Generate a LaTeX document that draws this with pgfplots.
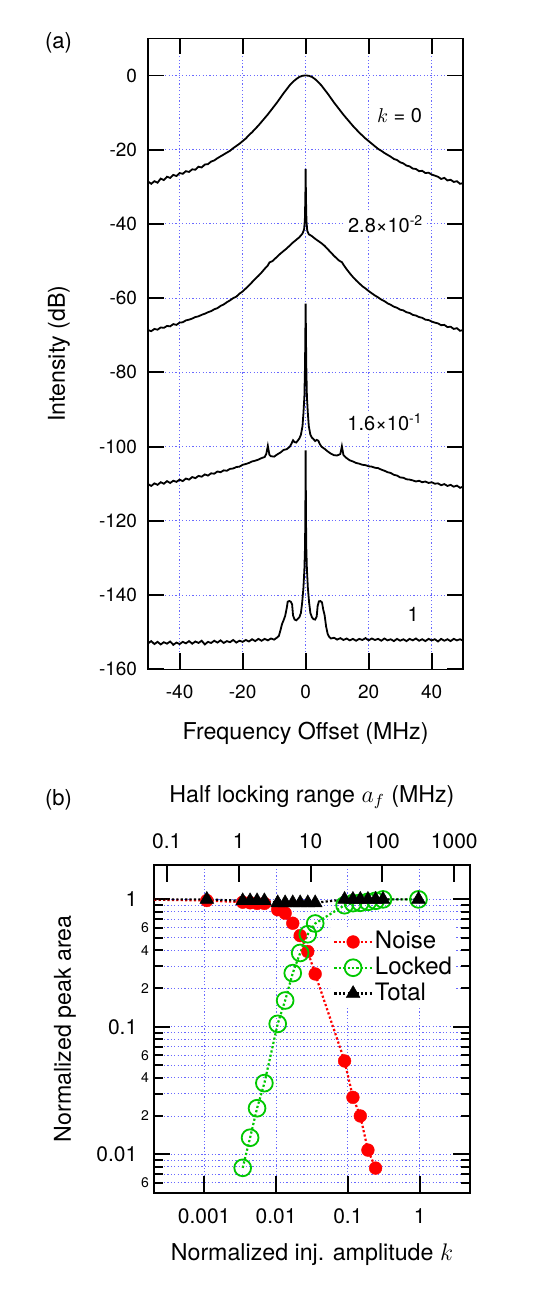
\documentclass[border=0pt]{standalone}
\usepackage{fontspec}
\setmainfont{TeX Gyre Heros}
\usepackage{pgfplots}
\pgfplotsset{compat=1.18}
\definecolor{gridblue}{RGB}{105,105,255}
\definecolor{nred}{RGB}{255,0,0}
\definecolor{lgreen}{RGB}{0,200,0}

\pgfplotstableread{
x y
-50 -28.6
-49 -29.2
-48 -28.5
-47 -28.9
-46 -27.8
-45 -28.2
-44 -27.3
-43 -27.6
-42 -26.8
-41 -27.1
-40 -26.3
-39 -26.5
-38 -25.8
-37 -26.0
-36 -25.3
-35 -25.4
-34 -24.6
-33 -24.8
-32 -24.0
-31 -23.9
-30 -23.2
-29 -22.9
-28 -22.3
-27 -21.8
-26 -21.3
-25 -20.8
-24 -20.3
-23 -19.6
-22 -19.0
-21 -18.4
-20 -17.7
-19 -17.0
-18 -16.1
-17 -15.3
-16 -14.4
-15 -13.5
-14 -12.5
-13 -11.5
-12 -10.5
-11 -9.4
-10 -8.3
-9 -7.2
-8 -6.0
-7 -4.8
-6 -3.7
-5 -2.6
-4 -1.7
-3 -1.0
-2 -0.4
-1 -0.1
0 0
1 -0.1
2 -0.4
3 -1.0
4 -1.8
5 -2.7
6 -3.8
7 -4.9
8 -6.1
9 -7.3
10 -8.4
11 -9.5
12 -10.6
13 -11.6
14 -12.6
15 -13.6
16 -14.5
17 -15.4
18 -16.2
19 -17.0
20 -17.7
21 -18.4
22 -19.1
23 -19.8
24 -20.3
25 -20.9
26 -21.4
27 -21.9
28 -22.5
29 -22.8
30 -23.4
31 -23.7
32 -24.3
33 -24.5
34 -25.1
35 -25.2
36 -25.8
37 -25.7
38 -26.3
39 -26.2
40 -26.7
41 -27.0
42 -27.3
43 -27.9
44 -27.6
45 -28.3
46 -28.1
47 -28.7
48 -28.5
49 -29.2
50 -29.0
}\specA

\pgfplotstableread{
x y
-50 -68.6
-49 -68.9
-48 -68.3
-47 -68.5
-46 -67.9
-45 -68.0
-44 -67.5
-43 -67.6
-42 -67.0
-41 -67.2
-40 -66.6
-39 -66.5
-38 -66.0
-37 -65.8
-36 -65.5
-35 -65.1
-34 -64.9
-33 -64.5
-32 -64.2
-31 -63.8
-30 -63.5
-29 -63.0
-28 -62.7
-27 -62.1
-26 -61.7
-25 -61.1
-24 -60.6
-23 -60.0
-22 -59.6
-21 -58.8
-20 -58.2
-19 -57.4
-18 -56.6
-17 -55.7
-16 -54.8
-15 -54.0
-14 -53.1
-13 -52.1
-12 -51.2
-11.5 -50.4
-11 -50.2
-10.5 -50.0
-10 -49.6
-9 -48.8
-8 -48.0
-7 -47.3
-6 -46.6
-5 -45.8
-4 -45.0
-3 -44.3
-2 -43.6
-1 -42.6
-0.5 -41.5
-0.25 -39
-0.1 -33
0 -25.2
0.1 -33
0.25 -39
0.5 -41.8
1 -42.8
2 -43.3
3 -44.0
4 -44.6
5 -45.2
6 -45.9
7 -46.8
8 -47.7
9 -48.6
10 -49.4
10.5 -49.8
11 -50.1
11.5 -50.3
12 -51.0
13 -52.2
14 -53.3
15 -54.3
16 -55.2
17 -56.0
18 -56.8
19 -57.4
20 -58.1
21 -58.7
22 -59.3
23 -59.8
24 -60.4
25 -60.8
26 -61.4
27 -61.8
28 -62.3
29 -62.6
30 -63.1
31 -63.3
32 -63.8
33 -64.0
34 -64.5
35 -64.7
36 -65.1
37 -65.3
38 -65.8
39 -65.9
40 -66.3
41 -66.6
42 -66.8
43 -67.3
44 -67.2
45 -67.8
46 -67.7
47 -68.3
48 -68.1
49 -68.8
50 -68.6
}\specB

\pgfplotstableread{
x y
-50 -110.1
-49 -110.6
-48 -109.9
-47 -110.3
-46 -109.6
-45 -110.0
-44 -109.3
-43 -109.8
-42 -109.2
-41 -109.5
-40 -108.9
-39 -109.3
-38 -108.6
-37 -108.9
-36 -108.2
-35 -108.5
-34 -107.9
-33 -108.1
-32 -107.5
-31 -107.8
-30 -107.2
-29 -107.3
-28 -106.7
-27 -106.9
-26 -106.4
-25 -106.5
-24 -106.0
-23 -105.9
-22 -105.5
-21 -105.4
-20 -104.9
-19 -104.7
-18 -104.4
-17 -104.0
-16 -103.8
-15 -103.5
-14 -103.1
-13 -102.8
-12.5 -102.0
-12 -99.8
-11.5 -102.2
-11 -102.6
-10 -102.7
-9 -102.1
-8 -101.6
-7 -100.9
-6 -100.7
-5 -100.0
-4.5 -99.2
-4 -98.3
-3.5 -98.8
-3 -98.9
-2.5 -98.4
-2 -97.8
-1.5 -96.8
-1 -94.5
-0.7 -91
-0.4 -86.5
-0.2 -78
0 -61.5
0.2 -78
0.4 -86.5
0.7 -91
1 -94.5
1.5 -96.8
2 -97.6
2.5 -98.0
3 -98.5
3.5 -98.2
4 -98.4
4.5 -99.3
5 -100.0
6 -100.6
7 -101.3
8 -101.9
9 -102.3
10 -102.4
11 -102.0
11.5 -99.9
12 -102.3
13 -103.1
14 -103.7
15 -104.0
16 -104.4
17 -104.6
18 -104.9
19 -105.0
20 -105.3
21 -105.4
22 -105.7
23 -105.8
24 -106.2
25 -106.5
26 -106.9
27 -107.1
28 -107.6
29 -107.8
30 -108.3
31 -108.4
32 -108.8
33 -108.9
34 -109.1
35 -109.4
36 -109.2
37 -109.6
38 -109.4
39 -109.8
40 -109.6
41 -110.0
42 -109.9
43 -110.4
44 -110.1
45 -110.6
46 -110.3
47 -110.8
48 -110.5
49 -111.1
50 -110.8
}\specC

\pgfplotstableread{
x y
-50 -153.0
-49 -152.4
-48 -153.2
-47 -152.6
-46 -153.3
-45 -152.7
-44 -153.1
-43 -152.5
-42 -153.4
-41 -152.8
-40 -153.2
-39 -152.6
-38 -153.0
-37 -152.4
-36 -153.1
-35 -152.5
-34 -152.9
-33 -152.3
-32 -153.3
-31 -152.6
-30 -152.9
-29 -152.3
-28 -152.8
-27 -152.2
-26 -152.9
-25 -152.4
-24 -152.7
-23 -152.1
-22 -152.8
-21 -152.3
-20 -152.6
-19 -152.1
-18 -152.5
-17 -151.9
-16 -152.4
-15 -151.8
-14 -152.3
-13 -151.8
-12 -152.2
-11 -151.7
-10 -152.0
-9 -151.4
-8.5 -151.0
-8 -149.5
-7.5 -147.8
-7 -146.8
-6.5 -145.6
-6 -143.5
-5.7 -141.8
-5.2 -141.6
-4.7 -141.8
-4.3 -142.5
-4 -145.5
-3.5 -146.6
-3 -146.8
-2.5 -146.4
-2 -146.0
-1.5 -144.8
-1.1 -142
-0.7 -138
-0.4 -133
-0.2 -127
-0.1 -118
0 -101
0.1 -118
0.2 -127
0.4 -133
0.7 -138
1.1 -142
1.5 -144.8
2 -146.0
2.5 -146.5
3 -146.6
3.5 -145.8
3.8 -143.0
4.2 -141.7
4.7 -141.6
5.2 -142.0
5.6 -144.0
6 -145.3
6.5 -148.5
7 -150.5
7.5 -151.3
8 -151.7
9 -151.5
10 -152.0
11 -151.6
12 -152.1
13 -151.7
14 -152.2
15 -151.8
16 -152.3
17 -151.8
18 -152.1
19 -151.6
20 -152.2
21 -151.7
22 -152.1
23 -151.8
24 -152.3
25 -151.7
26 -152.2
27 -151.9
28 -152.4
29 -151.8
30 -152.3
31 -151.9
32 -152.4
33 -151.8
34 -152.2
35 -151.7
36 -152.3
37 -151.9
38 -152.4
39 -151.8
40 -152.2
41 -151.9
42 -152.5
43 -151.8
44 -152.3
45 -151.9
46 -152.4
47 -151.8
48 -152.2
49 -151.9
50 -152.3
}\specD

\pgfplotstableread{
k v
0.0001 1.0
0.00109 0.98
0.00344 0.95
0.00436 0.94
0.00545 0.93
0.00689 0.93
0.01056 0.83
0.0134 0.78
0.0171 0.65
0.02168 0.52
0.02767 0.39
0.03508 0.26
0.0899 0.054
0.1175 0.028
0.149 0.020
0.19 0.0108
0.243 0.0078
}\noise

\pgfplotstableread{
k v
0.00344 0.00784
0.00436 0.0135
0.00545 0.0230
0.00689 0.0362
0.01056 0.1056
0.0134 0.161
0.0171 0.264
0.02168 0.380
0.02767 0.533
0.03508 0.647
0.0899 0.90
0.1175 0.935
0.149 0.94
0.19 0.957
0.243 0.975
0.308 1.0
0.96 1.0
}\locked

\pgfplotstableread{
k v
0.0001 1.0
0.00109 1.0
0.00344 0.975
0.00436 0.975
0.00545 0.975
0.00689 0.975
0.01056 0.94
0.0134 0.94
0.0171 0.94
0.02168 0.94
0.02767 0.94
0.03508 0.94
0.0899 1.0
0.1175 1.0
0.149 1.0
0.19 1.0
0.243 1.0
0.308 1.0
0.96 1.0
}\total

\begin{document}
\begin{tikzpicture}
\path[use as bounding box] (0,0) rectangle (270pt,-648pt);

\node[font=\fontsize{11}{13}\selectfont] at (29.25pt,-21.65pt) {(a)};
\node[font=\fontsize{11}{13}\selectfont] at (29.25pt,-400pt) {(b)};

% ---------------- panel (a) ----------------
\begin{axis}[
  at={(74.05pt,-334.65pt)}, anchor=south west,
  scale only axis, width=157.55pt, height=315.5pt,
  xmin=-50, xmax=50, ymin=-160, ymax=10,
  xtick={-40,-20,0,20,40}, xticklabels={-40,-20,0,20,40},
  ytick={-160,-140,-120,-100,-80,-60,-40,-20,0},
  yticklabels={-160,-140,-120,-100,-80,-60,-40,-20,0},
  minor tick num=0,
  tick align=inside, major tick length=8pt,
  every tick/.append style={draw=black, solid, line width=0.9pt},
  axis line style={line width=0.7pt},
  xmajorgrids, ymajorgrids,
  major grid style={gridblue, line width=0.4pt, dash pattern=on 0.6pt off 1.1pt},
  tick label style={font=\fontsize{9.5}{11}\selectfont},
  xticklabel style={yshift=-4.3pt},
  yticklabel style={xshift=-2pt},
  xlabel={Frequency Offset (MHz)},
  ylabel={Intensity (dB)},
  label style={font=\fontsize{11.6}{13}\selectfont},
  xlabel style={at={(axis description cs:0.5,-0.101)}, anchor=center},
  ylabel style={at={(axis description cs:-0.283,0.5)}, anchor=center},
]
\pgfplotsinvokeforeach{-40,-20,0,20,40}{
  \draw[black, line width=0.9pt] (axis cs:#1,-160) -- ++(0pt,8pt);
  \draw[black, line width=0.9pt] (axis cs:#1,10) -- ++(0pt,-8pt);
}
\pgfplotsinvokeforeach{-140,-120,-100,-80,-60,-40,-20,0}{
  \draw[black, line width=0.9pt] (axis cs:-50,#1) -- ++(8pt,0pt);
  \draw[black, line width=0.9pt] (axis cs:50,#1) -- ++(-8pt,0pt);
}
\addplot[black, line width=0.9pt] table[x=x,y=y] {\specA};
\addplot[black, line width=0.9pt] table[x=x,y=y] {\specB};
\addplot[black, line width=0.9pt] table[x=x,y=y] {\specC};
\addplot[black, line width=0.9pt] table[x=x,y=y] {\specD};
\node[fill=white, inner sep=1.5pt, font=\fontsize{10}{12}\selectfont] at (axis cs:29.8,-10.9) {$k$ = 0};
\node[fill=white, inner sep=1.5pt, font=\fontsize{10}{12}\selectfont] at (axis cs:25.4,-40.0) {2.8×10\textsuperscript{-2}};
\node[fill=white, inner sep=1.5pt, font=\fontsize{10}{12}\selectfont] at (axis cs:25.2,-93.5) {1.6×10\textsuperscript{-1}};
\node[fill=white, inner sep=1.5pt, font=\fontsize{10}{12}\selectfont] at (axis cs:34.1,-145.3) {1};
\end{axis}

% ---------------- panel (b) ----------------
\begin{axis}[
  at={(76.95pt,-596.35pt)}, anchor=south west,
  scale only axis, width=158.05pt, height=163.85pt,
  xmode=log, ymode=log,
  xmin=2e-4, xmax=5, ymin=0.005, ymax=1.86,
  xtick={0.001,0.01,0.1,1}, xticklabels={0.001,0.01,0.1,1},
  ytick={0.01,0.1,1}, yticklabels={0.01,0.1,1},
  xminorticks=false,
  minor ytick={0.006,0.007,0.008,0.009,0.02,0.03,0.04,0.05,0.06,0.07,0.08,0.09,0.2,0.3,0.4,0.5,0.6,0.7,0.8,0.9},
  extra y ticks={0.006,0.02,0.04,0.06,0.2,0.4,0.6},
  extra y tick labels={6,2,4,6,2,4,6},
  extra y tick style={major tick length=4.7pt, yticklabel style={font=\fontsize{7}{8}\selectfont, xshift=5.9pt}},
  xtick pos=left,
  tick align=inside, major tick length=8.3pt, minor tick length=4.7pt,
  every tick/.append style={draw=black, solid, line width=1pt},
  axis line style={line width=1pt},
  xmajorgrids, ymajorgrids, yminorgrids,
  major grid style={gridblue, line width=0.4pt, dash pattern=on 0.6pt off 1.1pt},
  minor grid style={gridblue, line width=0.4pt, dash pattern=on 0.6pt off 1.1pt},
  tick label style={font=\fontsize{10.5}{12}\selectfont},
  xticklabel style={yshift=-4.3pt},
  yticklabel style={xshift=-4.8pt},
  xlabel={Normalized inj. amplitude $k$},
  ylabel={Normalized peak area},
  label style={font=\fontsize{11.6}{13}\selectfont},
  xlabel style={at={(axis description cs:0.5,-0.189)}, anchor=center},
  ylabel style={at={(axis description cs:-0.281,0.5)}, anchor=center},
  legend style={at={(0.957,0.812)}, anchor=north east, draw=none, fill=white,
    font=\fontsize{12}{12}\selectfont, inner xsep=1pt, inner ysep=1pt, row sep=0pt,
    nodes={inner sep=1pt, text height=8.9pt, text depth=2pt}},
  legend cell align=left,
  legend image code/.code={\draw[mark repeat=2,mark phase=2] plot coordinates {(0cm,0cm) (0.33cm,0cm) (0.66cm,0cm)};},
]
\pgfplotsinvokeforeach{0.001,0.01,0.1,1}{
  \draw[black, line width=1pt] (axis cs:#1,0.005) -- ++(0pt,8.3pt);
}
\pgfplotsinvokeforeach{0.01,0.1,1}{
  \draw[black, line width=1pt] (axis cs:2e-4,#1) -- ++(8.3pt,0pt);
  \draw[black, line width=1pt] (axis cs:5,#1) -- ++(-8.3pt,0pt);
}
\pgfplotsinvokeforeach{0.006,0.007,0.008,0.009,0.02,0.03,0.04,0.05,0.06,0.07,0.08,0.09,0.2,0.3,0.4,0.5,0.6,0.7,0.8,0.9}{
  \draw[black, line width=1pt] (axis cs:2e-4,#1) -- ++(4.7pt,0pt);
  \draw[black, line width=1pt] (axis cs:5,#1) -- ++(-4.7pt,0pt);
}
\addplot[nred, line width=1.1pt, dash pattern=on 1.1pt off 1.1pt, mark=*, mark size=3.2pt, mark options={solid, fill=nred, draw=nred, line width=0.2pt}] table[x=k,y=v] {\noise};
\addlegendentry{Noise}
\addplot[lgreen, line width=1.1pt, dash pattern=on 1.1pt off 1.1pt, mark=o, mark size=4.2pt, mark options={solid, draw=lgreen, line width=0.9pt}] table[x=k,y=v] {\locked};
\addlegendentry{Locked}
\addplot[black, line width=1.1pt, dash pattern=on 1.1pt off 1.1pt, mark=triangle*, mark size=4pt, mark options={solid, fill=black, draw=black, line width=0.2pt}] table[x=k,y=v] {\total};
\addlegendentry{Total}
\end{axis}

% top axis of (b)
\begin{axis}[
  at={(76.95pt,-596.35pt)}, anchor=south west,
  scale only axis, width=158.05pt, height=163.85pt,
  xmode=log, xmin=0.0662, xmax=1655, ymin=0, ymax=1,
  hide y axis,
  xtick pos=right, xticklabel pos=right,
  xtick={0.1,1,10,100,1000}, xticklabels={0.1,1,10,100,1000},
  xminorticks=false,
  tick align=inside, major tick length=8.3pt,
  every tick/.append style={draw=black, solid, line width=1pt},
  axis line style={line width=1pt},
  tick label style={font=\fontsize{10.5}{12}\selectfont},
  xticklabel style={yshift=4.5pt},
  xlabel={Half locking range $a_f$ (MHz)},
  label style={font=\fontsize{11.6}{13}\selectfont},
  xlabel style={at={(axis description cs:0.5,1.2075)}, anchor=center},
]
\pgfplotsinvokeforeach{0.1,1,10,100,1000}{
  \draw[black, line width=1pt] (axis cs:#1,1) -- ++(0pt,-8.3pt);
}
\end{axis}
\end{tikzpicture}
\end{document}
